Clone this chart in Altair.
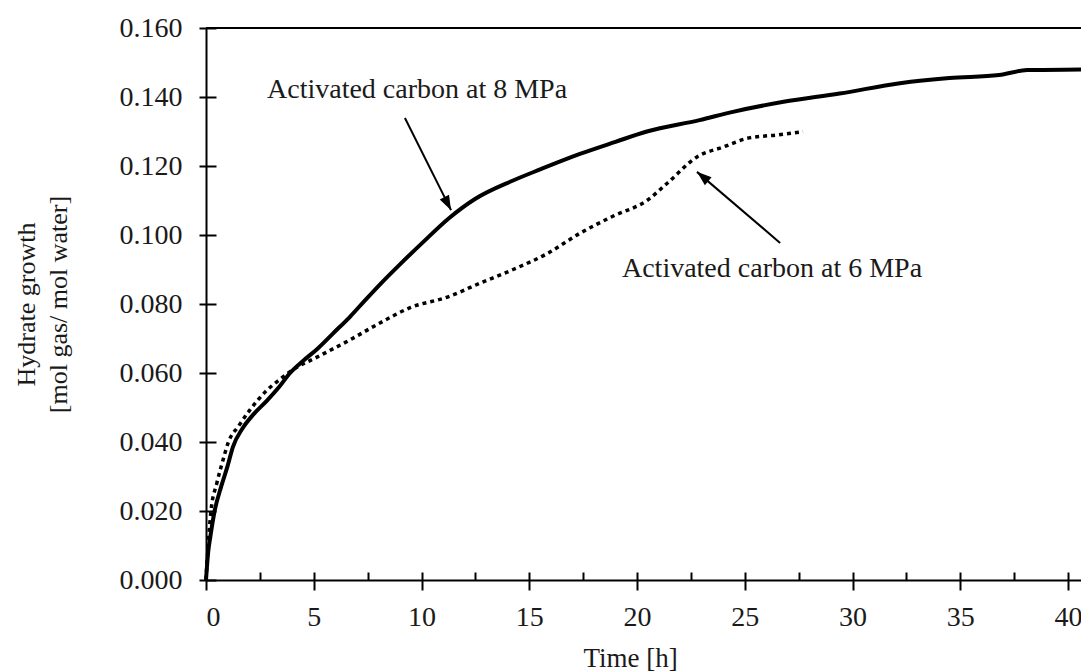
import altair as alt
import pandas as pd

# ---- data ----
t_8mpa = [0, 0.1, 0.2, 0.4, 0.7, 1.0, 1.25, 1.7, 2.2, 2.83, 3.4, 3.9, 4.5, 5.15, 5.9,
          6.68, 7.4, 8.2, 9.0, 10.0, 11.3, 12.5, 14.25, 15.5, 17.35, 19.0, 20.46,
          22.9, 24.45, 26.8, 29.4, 32.2, 34.5, 36.8, 38.1, 40.6]
v_8mpa = [0, 0.008, 0.0125, 0.020, 0.027, 0.033, 0.0386, 0.044, 0.048, 0.052, 0.056,
          0.060, 0.0635, 0.0669, 0.0715, 0.0763, 0.0812, 0.0865, 0.0915, 0.0975, 0.105,
          0.1105, 0.1158, 0.119, 0.1235, 0.127, 0.130, 0.1333, 0.1357, 0.1386, 0.141,
          0.144, 0.1455, 0.1464, 0.1478, 0.148]

t_6mpa = [0, 0.1, 0.23, 0.5, 0.8, 1.04, 1.5, 2.04, 2.83, 3.4, 4.04, 5.15, 6.68, 8.07,
          9.5, 11.2, 12.7, 14.25, 15.8, 17.35, 18.9, 20.46, 21.4, 22.8, 24.0, 25.1,
          26.5, 27.7]
v_6mpa = [0, 0.010, 0.020, 0.028, 0.035, 0.040, 0.0445, 0.0493, 0.055, 0.058, 0.061,
          0.0646, 0.0696, 0.0745, 0.079, 0.082, 0.086, 0.090, 0.0945, 0.1005, 0.1055,
          0.110, 0.115, 0.1227, 0.1255, 0.128, 0.129, 0.1299]

label_text = ["Activated carbon at 8 MPa", "Activated carbon at 6 MPa"]
label_t = [2.83, 19.3]
label_v = [0.1397, 0.0878]

arrow_t0 = [9.23, 26.64]
arrow_v0 = [0.1339, 0.0977]
arrow_t1 = [11.37, 22.78]
arrow_v1 = [0.1072, 0.1183]
arrow_angle = [153, 310]

x_ticks = [0, 5, 10, 15, 20, 25, 30, 35, 40]
x_minor = [i * 2.5 for i in range(17)]
y_ticks = [0, 0.02, 0.04, 0.06, 0.08, 0.10, 0.12, 0.14, 0.16]

df8 = pd.DataFrame({"t": t_8mpa, "v": v_8mpa})
df6 = pd.DataFrame({"t": t_6mpa, "v": v_6mpa})
dflab = pd.DataFrame({"t": label_t, "v": label_v, "text": label_text})
dfarr = pd.DataFrame({"t0": arrow_t0, "v0": arrow_v0, "t1": arrow_t1, "v1": arrow_v1,
                      "ang": arrow_angle})

W, H = 875, 552
FONT = "Liberation Serif"

xscale = alt.Scale(domain=[0, 40.6], nice=False, zero=False)
yscale = alt.Scale(domain=[0, 0.16], nice=False)

x_main = alt.X("t:Q", scale=xscale, axis=alt.Axis(
    values=x_ticks, format="d", tickSize=10, labelPadding=13, grid=False,
    title="Time [h]", titleX=424, titleY=86, titleAlign="center",
    titleBaseline="alphabetic", titleFontSize=27, titleFontWeight="normal"))
y_main = alt.Y("v:Q", scale=yscale, axis=alt.Axis(
    values=y_ticks, format=".3f", tickSize=7, labelPadding=17, grid=False,
    title=["Hydrate growth", "[mol gas/ mol water]"], titleAngle=270,
    titleX=-172, titleY=276, titleAlign="center", titleBaseline="alphabetic",
    titleLineHeight=32, titleFontSize=26, titleFontWeight="normal"))

line8 = alt.Chart(df8).mark_line(color="black", strokeWidth=4,
                                 interpolate="monotone").encode(x=x_main, y=y_main)

x_inner = alt.X("t:Q", scale=xscale, axis=alt.Axis(
    orient="top", offset=-H, values=x_minor, tickSize=8, labels=False,
    domain=False, grid=False, title=None))
y_inner = alt.Y("v:Q", scale=yscale, axis=alt.Axis(
    orient="right", offset=-W, values=y_ticks, tickSize=10, labels=False,
    domain=False, grid=False, title=None))

line6 = alt.Chart(df6).mark_line(color="black", strokeWidth=3.5, strokeDash=[4, 4],
                                 interpolate="monotone").encode(x=x_inner, y=y_inner)

labels = alt.Chart(dflab).mark_text(font=FONT, fontSize=28, align="left",
                                    baseline="alphabetic", color="#1a1a1a").encode(
    x=alt.X("t:Q", scale=xscale, axis=None),
    y=alt.Y("v:Q", scale=yscale, axis=None),
    text="text:N")

shafts = alt.Chart(dfarr).mark_rule(color="black", strokeWidth=2).encode(
    x=alt.X("t0:Q", scale=xscale, axis=None),
    y=alt.Y("v0:Q", scale=yscale, axis=None),
    x2="t1:Q", y2="v1:Q")

heads = alt.Chart(dfarr).mark_point(
    shape="M0,0L-0.6,1.7L0.6,1.7Z", filled=True, color="black",
    size=300, opacity=1, strokeWidth=0).encode(
    x=alt.X("t1:Q", scale=xscale, axis=None),
    y=alt.Y("v1:Q", scale=yscale, axis=None),
    angle=alt.Angle("ang:Q", scale=None))

top_line = alt.Chart(df8).mark_rule(color="black", strokeWidth=2).encode(
    x=alt.value(0), x2=alt.value(W), y=alt.value(0))

chart = alt.layer(line8, line6, labels, shafts, heads, top_line).resolve_axis(
    x="independent", y="independent"
).properties(
    width=W, height=H,
    autosize=alt.AutoSizeParams(type="none"),
    padding={"left": 206, "top": 28, "right": 0, "bottom": 91},
    background="white",
).configure_view(stroke=None).configure_axis(
    domainColor="black", domainWidth=2, tickColor="black", tickWidth=2,
    labelFont=FONT, labelFontSize=28, labelColor="#1a1a1a",
    titleFont=FONT, titleColor="#1a1a1a",
)

chart.save("out.html", embed_options={"renderer": "svg", "actions": False})
